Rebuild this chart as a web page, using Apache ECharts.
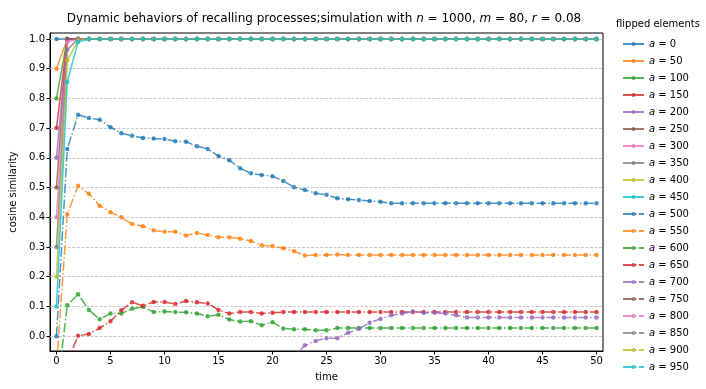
<!DOCTYPE html>
<html><head><meta charset="utf-8">
<script src="https://cdn.jsdelivr.net/npm/echarts@6/dist/echarts.min.js"></script>
<style>html,body{margin:0;padding:0;background:#fff}#c{width:706px;height:389px}</style>
</head><body><div id="c"></div>
<script>
// time steps
const times = [0,1,2,3,4,5,6,7,8,9,10,11,12,13,14,15,16,17,18,19,20,21,22,23,24,25,26,27,28,29,30,31,32,33,34,35,36,37,38,39,40,41,42,43,44,45,46,47,48,49,50];
const xTicks = [0,5,10,15,20,25,30,35,40,45,50];
const yTicks = [0,0.1,0.2,0.3,0.4,0.5,0.6,0.7,0.8,0.9,1.0];
const flipped = [0,50,100,150,200,250,300,350,400,450,500,550,600,650,700,750,800,850,900,950];

// cosine similarity per flipped count
const a0   = [1,1,1,1,1,1,1,1,1,1,1,1,1,1,1,1,1,1,1,1,1,1,1,1,1,1,1,1,1,1,1,1,1,1,1,1,1,1,1,1,1,1,1,1,1,1,1,1,1,1,1];
const a50  = [0.9,1,1,1,1,1,1,1,1,1,1,1,1,1,1,1,1,1,1,1,1,1,1,1,1,1,1,1,1,1,1,1,1,1,1,1,1,1,1,1,1,1,1,1,1,1,1,1,1,1,1];
const a100 = [0.8,1,1,1,1,1,1,1,1,1,1,1,1,1,1,1,1,1,1,1,1,1,1,1,1,1,1,1,1,1,1,1,1,1,1,1,1,1,1,1,1,1,1,1,1,1,1,1,1,1,1];
const a150 = [0.7,1,1,1,1,1,1,1,1,1,1,1,1,1,1,1,1,1,1,1,1,1,1,1,1,1,1,1,1,1,1,1,1,1,1,1,1,1,1,1,1,1,1,1,1,1,1,1,1,1,1];
const a200 = [0.6,1,1,1,1,1,1,1,1,1,1,1,1,1,1,1,1,1,1,1,1,1,1,1,1,1,1,1,1,1,1,1,1,1,1,1,1,1,1,1,1,1,1,1,1,1,1,1,1,1,1];
const a250 = [0.5,1,1,1,1,1,1,1,1,1,1,1,1,1,1,1,1,1,1,1,1,1,1,1,1,1,1,1,1,1,1,1,1,1,1,1,1,1,1,1,1,1,1,1,1,1,1,1,1,1,1];
const a300 = [0.4,0.99,1,1,1,1,1,1,1,1,1,1,1,1,1,1,1,1,1,1,1,1,1,1,1,1,1,1,1,1,1,1,1,1,1,1,1,1,1,1,1,1,1,1,1,1,1,1,1,1,1];
const a350 = [0.3,0.964,1,1,1,1,1,1,1,1,1,1,1,1,1,1,1,1,1,1,1,1,1,1,1,1,1,1,1,1,1,1,1,1,1,1,1,1,1,1,1,1,1,1,1,1,1,1,1,1,1];
const a400 = [0.2,0.928,0.995,1,1,1,1,1,1,1,1,1,1,1,1,1,1,1,1,1,1,1,1,1,1,1,1,1,1,1,1,1,1,1,1,1,1,1,1,1,1,1,1,1,1,1,1,1,1,1,1];
const a450 = [0.1,0.855,0.99,1,1,1,1,1,1,1,1,1,1,1,1,1,1,1,1,1,1,1,1,1,1,1,1,1,1,1,1,1,1,1,1,1,1,1,1,1,1,1,1,1,1,1,1,1,1,1,1];
const a500 = [0.0,0.63,0.745,0.734,0.728,0.703,0.683,0.674,0.667,0.665,0.663,0.656,0.654,0.639,0.630,0.606,0.592,0.565,0.548,0.542,0.538,0.522,0.501,0.492,0.481,0.476,0.464,0.461,0.458,0.455,0.452,0.447,0.447,0.447,0.447,0.447,0.447,0.447,0.447,0.447,0.447,0.447,0.447,0.447,0.447,0.447,0.447,0.447,0.447,0.447,0.447];
const a550 = [-0.1,0.41,0.506,0.479,0.439,0.417,0.400,0.377,0.370,0.356,0.351,0.351,0.339,0.347,0.340,0.333,0.333,0.328,0.320,0.306,0.303,0.296,0.286,0.271,0.273,0.273,0.275,0.273,0.273,0.273,0.273,0.273,0.273,0.273,0.273,0.273,0.273,0.273,0.273,0.273,0.273,0.273,0.273,0.273,0.273,0.273,0.273,0.273,0.273,0.273,0.273];
const a600 = [-0.2,0.104,0.141,0.088,0.057,0.076,0.076,0.092,0.099,0.081,0.083,0.081,0.080,0.076,0.067,0.072,0.056,0.049,0.050,0.037,0.047,0.026,0.023,0.023,0.020,0.020,0.027,0.027,0.027,0.027,0.027,0.027,0.027,0.027,0.027,0.027,0.027,0.027,0.027,0.027,0.027,0.027,0.027,0.027,0.027,0.027,0.027,0.027,0.027,0.027,0.027];
const a650 = [-0.3,-0.085,0.001,0.007,0.027,0.050,0.087,0.114,0.102,0.115,0.115,0.108,0.118,0.114,0.110,0.088,0.076,0.081,0.081,0.076,0.079,0.081,0.081,0.081,0.081,0.081,0.081,0.081,0.081,0.081,0.081,0.081,0.081,0.081,0.081,0.081,0.081,0.081,0.081,0.081,0.081,0.081,0.081,0.081,0.081,0.081,0.081,0.081,0.081,0.081,0.081];
const a700 = [-0.4,-0.36,-0.33,-0.31,-0.29,-0.27,-0.26,-0.24,-0.23,-0.21,-0.2,-0.19,-0.17,-0.16,-0.15,-0.14,-0.13,-0.12,-0.11,-0.1,-0.09,-0.08,-0.069,-0.031,-0.016,-0.007,-0.007,0.011,0.025,0.045,0.058,0.070,0.076,0.083,0.079,0.079,0.076,0.070,0.063,0.063,0.063,0.063,0.063,0.063,0.063,0.063,0.063,0.063,0.063,0.063,0.063];
const a750 = [-0.5,-0.62,-0.66,-0.68,-0.7,-0.71,-0.72,-0.72,-0.73,-0.73,-0.73,-0.73,-0.73,-0.73,-0.73,-0.73,-0.73,-0.73,-0.73,-0.73,-0.73,-0.73,-0.73,-0.73,-0.73,-0.73,-0.73,-0.73,-0.73,-0.73,-0.73,-0.73,-0.73,-0.73,-0.73,-0.73,-0.73,-0.73,-0.73,-0.73,-0.73,-0.73,-0.73,-0.73,-0.73,-0.73,-0.73,-0.73,-0.73,-0.73,-0.73];
const a800 = [-0.6,-0.85,-0.93,-0.96,-0.98,-0.99,-1,-1,-1,-1,-1,-1,-1,-1,-1,-1,-1,-1,-1,-1,-1,-1,-1,-1,-1,-1,-1,-1,-1,-1,-1,-1,-1,-1,-1,-1,-1,-1,-1,-1,-1,-1,-1,-1,-1,-1,-1,-1,-1,-1,-1];
const a850 = [-0.7,-0.92,-0.98,-1,-1,-1,-1,-1,-1,-1,-1,-1,-1,-1,-1,-1,-1,-1,-1,-1,-1,-1,-1,-1,-1,-1,-1,-1,-1,-1,-1,-1,-1,-1,-1,-1,-1,-1,-1,-1,-1,-1,-1,-1,-1,-1,-1,-1,-1,-1,-1];
const a900 = [-0.8,-0.96,-1,-1,-1,-1,-1,-1,-1,-1,-1,-1,-1,-1,-1,-1,-1,-1,-1,-1,-1,-1,-1,-1,-1,-1,-1,-1,-1,-1,-1,-1,-1,-1,-1,-1,-1,-1,-1,-1,-1,-1,-1,-1,-1,-1,-1,-1,-1,-1,-1];
const a950 = [-0.9,-0.99,-1,-1,-1,-1,-1,-1,-1,-1,-1,-1,-1,-1,-1,-1,-1,-1,-1,-1,-1,-1,-1,-1,-1,-1,-1,-1,-1,-1,-1,-1,-1,-1,-1,-1,-1,-1,-1,-1,-1,-1,-1,-1,-1,-1,-1,-1,-1,-1,-1];

const allValues = [a0,a50,a100,a150,a200,a250,a300,a350,a400,a450,a500,a550,a600,a650,a700,a750,a800,a850,a900,a950];
const palette = ['#1f77b4','#ff7f0e','#2ca02c','#d62728','#9467bd','#8c564b','#e377c2','#7f7f7f','#bcbd22','#17becf'];
const FONT = 'DejaVu Sans';

const series = allValues.map((vals, k) => {
  const color = palette[k % 10];
  const dashed = k >= 10;
  const s = {
    name: 'a = ' + flipped[k],
    type: 'line',
    data: times.map((t, i) => [t, vals[i]]),
    symbol: 'circle',
    symbolSize: 4.5,
    showSymbol: true,
    clip: true,
    animation: false,
    z: 2,
    lineStyle: { color: color, width: 1.5, opacity: 0.8, type: dashed ? [9.6, 2.4, 1.5, 2.4] : 'solid' },
    itemStyle: { color: color, opacity: 0.8 },
    emphasis: { disabled: true }
  };
  if (k === 0) {
    s.markLine = {
      z: 1, silent: true, symbol: 'none', animation: false,
      label: { show: false },
      lineStyle: { color: '#bdbdbd', width: 0.8, type: [3, 1.5], opacity: 1 },
      data: yTicks.map(v => ({ yAxis: v }))
    };
  }
  return s;
});

const chart = echarts.init(document.getElementById('c'), null, { renderer: 'canvas' });
chart.setOption({
  backgroundColor: '#fff',
  animation: false,
  textStyle: { fontFamily: FONT },
  title: [
    {
      text: 'Dynamic behaviors of recalling processes;simulation with {i|n} = 1000, {i|m} = 80, {i|r} = 0.08',
      left: 319, top: 8, textAlign: 'center',
      textStyle: { fontFamily: FONT, fontSize: 12, fontWeight: 'normal', color: '#000',
        rich: { i: { fontFamily: FONT, fontSize: 12, fontStyle: 'italic', color: '#000' } } }
    },
    {
      text: 'flipped elements', left: 611, top: 14,
      textStyle: { fontFamily: FONT, fontSize: 10, fontWeight: 'normal', color: '#000' }
    }
  ],
  grid: { left: 44, right: 103, top: 33, bottom: 38, show: true, borderColor: '#000', borderWidth: 1, backgroundColor: 'transparent' },
  legend: {
    orient: 'vertical', left: 617, top: 33,
    itemWidth: 21, itemHeight: 5, itemGap: 5,
    selectedMode: false,
    data: flipped.map(a => 'a = ' + a),
    formatter: name => '{i|a}' + name.slice(1),
    textStyle: { fontFamily: FONT, fontSize: 10, color: '#000', lineHeight: 12,
      rich: { i: { fontFamily: FONT, fontSize: 10, fontStyle: 'italic', color: '#000', lineHeight: 12 } } }
  },
  xAxis: {
    type: 'value', min: -0.6, max: 50.6,
    name: 'time', nameLocation: 'middle', nameGap: 21,
    nameTextStyle: { fontFamily: FONT, fontSize: 10, color: '#000' },
    axisLine: { show: true, onZero: false, lineStyle: { color: '#000', width: 1 } },
    axisTick: { show: true, length: 3.5, lineStyle: { color: '#000' }, customValues: xTicks },
    axisLabel: { fontFamily: FONT, fontSize: 10, color: '#000', margin: 5, customValues: xTicks, formatter: v => String(v) },
    splitLine: { show: false }
  },
  yAxis: {
    type: 'value', min: -0.05, max: 1.02,
    name: 'cosine similarity', nameLocation: 'middle', nameGap: 32,
    nameTextStyle: { fontFamily: FONT, fontSize: 10, color: '#000' },
    axisLine: { show: true, onZero: false, lineStyle: { color: '#000', width: 1 } },
    axisTick: { show: true, length: 3.5, lineStyle: { color: '#000' }, customValues: yTicks },
    axisLabel: { fontFamily: FONT, fontSize: 10, color: '#000', margin: 5, customValues: yTicks, formatter: v => v.toFixed(1) },
    splitLine: { show: false }
  },
  series: series
});
</script>
</body></html>
